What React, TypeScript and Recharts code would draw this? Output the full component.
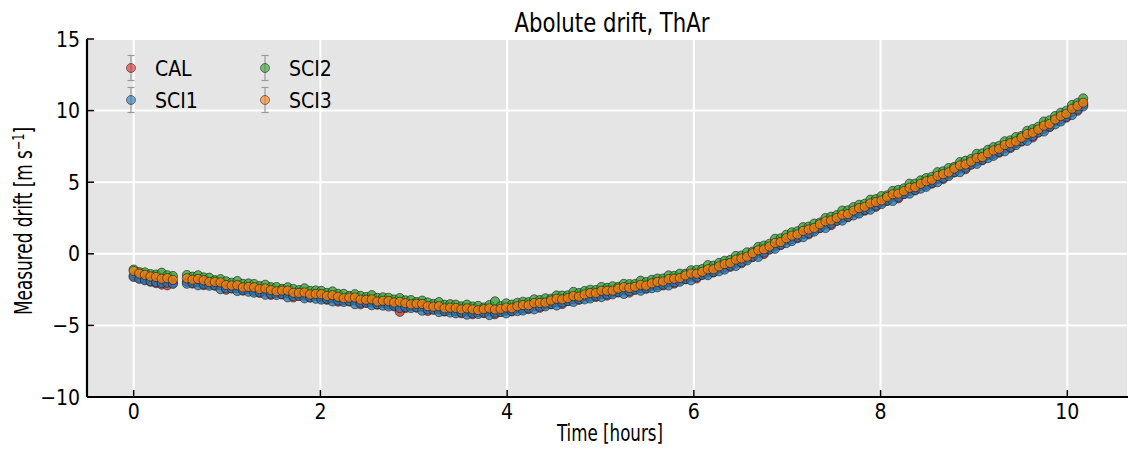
import React from "react";
import { ScatterChart, Scatter, XAxis, YAxis, CartesianGrid } from "recharts";

const FONT = '"Liberation Sans Narrow", "DejaVu Sans Condensed", "Roboto Condensed", "Arial Narrow", sans-serif';

// time stamps of the exposures [hours]
const hours = [
  0, 0.06, 0.12, 0.18, 0.24, 0.3, 0.36, 0.42,
  0.57, 0.63, 0.69, 0.75, 0.81, 0.87, 0.93, 0.99, 1.05, 1.11, 1.17, 1.23,
  1.29, 1.35, 1.41, 1.47, 1.53, 1.59, 1.65, 1.71, 1.77, 1.83, 1.89, 1.95,
  2.01, 2.07, 2.13, 2.19, 2.25, 2.31, 2.37, 2.43, 2.49, 2.55, 2.61, 2.67,
  2.73, 2.79, 2.85, 2.91, 2.97, 3.03, 3.09, 3.15, 3.21, 3.27, 3.33, 3.39,
  3.45, 3.51, 3.57, 3.63, 3.69, 3.75, 3.81, 3.87, 3.93, 3.99, 4.05, 4.11,
  4.17, 4.23, 4.29, 4.35, 4.41, 4.47, 4.53, 4.59, 4.65, 4.71, 4.77, 4.83,
  4.89, 4.95, 5.01, 5.07, 5.13, 5.19, 5.25, 5.31, 5.37, 5.43, 5.49, 5.55,
  5.61, 5.67, 5.73, 5.79, 5.85, 5.91, 5.97, 6.03, 6.09, 6.15, 6.21, 6.27,
  6.33, 6.39, 6.45, 6.51, 6.57, 6.63, 6.69, 6.75, 6.81, 6.87, 6.93, 6.99,
  7.05, 7.11, 7.17, 7.23, 7.29, 7.35, 7.41, 7.47, 7.53, 7.59, 7.65, 7.71,
  7.77, 7.83, 7.89, 7.95, 8.01, 8.07, 8.13, 8.19, 8.25, 8.31, 8.37, 8.43,
  8.49, 8.55, 8.61, 8.67, 8.73, 8.79, 8.85, 8.91, 8.97, 9.03, 9.09, 9.15,
  9.21, 9.27, 9.33, 9.39, 9.45, 9.51, 9.57, 9.63, 9.69, 9.75, 9.81, 9.87,
  9.93, 9.99, 10.05, 10.11, 10.17,
];

// measured drift per fibre [m/s]
const cal = [
  -1.55, -1.7, -1.8, -1.95, -2.05, -2.15, -2.2, -2.05,
  -1.95, -2.08, -1.98, -2.19, -2.1, -2.23, -2.21, -2.51, -2.41, -2.41, -2.57, -2.45,
  -2.58, -2.73, -2.64, -2.87, -2.75, -2.84, -2.78, -3.05, -2.93, -2.92, -3.06, -2.94,
  -3.06, -3.21, -3.11, -3.34, -3.23, -3.33, -3.26, -3.53, -3.41, -3.4, -3.55, -3.42,
  -3.54, -3.67, -4.05, -3.79, -3.66, -3.76, -3.71, -3.99, -3.89, -3.88, -4.03, -3.9,
  -4.02, -4.15, -4.03, -4.22, -4.07, -4.14, -4.02, -4.22, -4.05, -3.97, -4.02, -3.8,
  -3.82, -3.86, -3.66, -3.77, -3.54, -3.53, -3.35, -3.51, -3.29, -3.17, -3.21, -2.98,
  -2.98, -3.01, -2.8, -2.92, -2.7, -2.7, -2.54, -2.71, -2.5, -2.39, -2.44, -2.2,
  -2.2, -2.21, -1.99, -2.08, -1.82, -1.78, -1.59, -1.72, -1.46, -1.3, -1.3, -1.02,
  -0.96, -0.91, -0.63, -0.66, -0.33, -0.23, 0.04, -0.02, 0.31, 0.54, 0.61, 0.95,
  1.03, 1.09, 1.38, 1.36, 1.68, 1.79, 2.06, 2.0, 2.31, 2.51, 2.56, 2.88,
  2.95, 3.01, 3.3, 3.28, 3.6, 3.69, 3.95, 3.87, 4.18, 4.39, 4.43, 4.75,
  4.82, 4.9, 5.22, 5.22, 5.56, 5.68, 5.96, 5.91, 6.24, 6.47, 6.54, 6.88,
  6.98, 7.06, 7.38, 7.38, 7.72, 7.84, 8.15, 8.12, 8.48, 8.73, 8.85, 9.24,
  9.38, 9.51, 9.91, 9.99, 10.42,
];

const sci1 = [
  -1.62, -1.75, -1.85, -1.92, -1.98, -2.05, -2.02, -2.1,
  -2.09, -2.02, -2.2, -2.11, -2.23, -2.2, -2.47, -2.41, -2.42, -2.6, -2.54, -2.65,
  -2.72, -2.67, -2.86, -2.79, -2.88, -2.81, -3.04, -2.95, -2.94, -3.11, -3.03, -3.14,
  -3.2, -3.15, -3.33, -3.26, -3.36, -3.3, -3.52, -3.43, -3.42, -3.59, -3.52, -3.62,
  -3.68, -3.61, -3.79, -3.71, -3.79, -3.73, -3.97, -3.89, -3.9, -4.07, -4.0, -4.1,
  -4.16, -4.09, -4.25, -4.14, -4.2, -4.11, -4.28, -4.12, -4.06, -4.16, -3.99, -4.0,
  -3.96, -3.8, -3.88, -3.69, -3.67, -3.5, -3.61, -3.41, -3.3, -3.36, -3.18, -3.18,
  -3.12, -2.95, -3.02, -2.84, -2.83, -2.67, -2.8, -2.61, -2.51, -2.58, -2.41, -2.4,
  -2.34, -2.15, -2.21, -2.0, -1.95, -1.75, -1.85, -1.62, -1.47, -1.49, -1.27, -1.22,
  -1.1, -0.85, -0.85, -0.58, -0.46, -0.2, -0.22, 0.08, 0.3, 0.35, 0.64, 0.75,
  0.89, 1.15, 1.16, 1.44, 1.55, 1.82, 1.8, 2.1, 2.3, 2.32, 2.59, 2.68,
  2.81, 3.07, 3.08, 3.36, 3.47, 3.72, 3.69, 3.97, 4.17, 4.2, 4.46, 4.55,
  4.68, 4.96, 5.0, 5.3, 5.43, 5.71, 5.7, 6.01, 6.23, 6.28, 6.57, 6.68,
  6.84, 7.12, 7.16, 7.46, 7.59, 7.87, 7.89, 8.22, 8.47, 8.54, 8.88, 9.04,
  9.24, 9.57, 9.69, 10.07, 10.29,
];

const sci2 = [
  -1.1, -1.28, -1.3, -1.42, -1.45, -1.32, -1.5, -1.55,
  -1.48, -1.6, -1.5, -1.65, -1.67, -1.84, -1.77, -1.92, -2.02, -1.9, -2.1, -2.07,
  -2.11, -2.25, -2.16, -2.33, -2.32, -2.45, -2.34, -2.46, -2.54, -2.41, -2.59, -2.56,
  -2.59, -2.73, -2.63, -2.8, -2.8, -2.94, -2.82, -2.94, -3.02, -2.89, -3.08, -3.04,
  -3.07, -3.19, -3.09, -3.25, -3.23, -3.37, -3.27, -3.4, -3.5, -3.37, -3.56, -3.52,
  -3.55, -3.67, -3.55, -3.68, -3.64, -3.75, -3.58, -3.32, -3.66, -3.46, -3.55, -3.42,
  -3.35, -3.38, -3.18, -3.23, -3.11, -3.14, -2.91, -2.92, -2.9, -2.66, -2.74, -2.6,
  -2.51, -2.53, -2.32, -2.38, -2.27, -2.31, -2.1, -2.12, -2.11, -1.88, -1.97, -1.82,
  -1.73, -1.73, -1.51, -1.54, -1.39, -1.39, -1.15, -1.13, -1.07, -0.79, -0.83, -0.64,
  -0.49, -0.43, -0.15, -0.12, 0.1, 0.16, 0.48, 0.57, 0.7, 1.05, 1.08, 1.33,
  1.5, 1.57, 1.86, 1.9, 2.11, 2.18, 2.5, 2.59, 2.7, 3.02, 3.03, 3.26,
  3.42, 3.49, 3.78, 3.82, 4.03, 4.08, 4.39, 4.46, 4.57, 4.9, 4.9, 5.13,
  5.29, 5.38, 5.7, 5.76, 5.99, 6.07, 6.4, 6.5, 6.63, 6.98, 7.01, 7.26,
  7.45, 7.54, 7.86, 7.92, 8.15, 8.23, 8.59, 8.71, 8.87, 9.24, 9.32, 9.62,
  9.85, 9.99, 10.39, 10.53, 10.85,
];

const sci3 = [
  -1.2, -1.38, -1.47, -1.58, -1.62, -1.74, -1.7, -1.82,
  -1.71, -1.81, -1.76, -1.85, -1.97, -1.96, -2.0, -2.18, -2.21, -2.19, -2.35, -2.31,
  -2.34, -2.46, -2.42, -2.53, -2.62, -2.57, -2.57, -2.72, -2.73, -2.7, -2.84, -2.8,
  -2.82, -2.94, -2.89, -3.0, -3.1, -3.06, -3.05, -3.2, -3.21, -3.18, -3.33, -3.28,
  -3.3, -3.4, -3.35, -3.45, -3.53, -3.49, -3.5, -3.66, -3.69, -3.66, -3.81, -3.76,
  -3.78, -3.88, -3.81, -3.88, -3.94, -3.87, -3.81, -3.89, -3.85, -3.75, -3.8, -3.66,
  -3.58, -3.59, -3.44, -3.43, -3.41, -3.26, -3.14, -3.18, -3.09, -2.95, -2.99, -2.84,
  -2.74, -2.74, -2.58, -2.58, -2.57, -2.43, -2.33, -2.38, -2.3, -2.17, -2.22, -2.06,
  -1.96, -1.94, -1.77, -1.74, -1.69, -1.51, -1.38, -1.39, -1.26, -1.08, -1.08, -0.88,
  -0.72, -0.64, -0.41, -0.32, -0.2, 0.04, 0.25, 0.31, 0.51, 0.76, 0.83, 1.09,
  1.27, 1.36, 1.6, 1.7, 1.81, 2.06, 2.27, 2.33, 2.51, 2.73, 2.78, 3.02,
  3.19, 3.28, 3.52, 3.62, 3.73, 3.96, 4.16, 4.2, 4.38, 4.61, 4.65, 4.89,
  5.06, 5.17, 5.44, 5.56, 5.69, 5.95, 6.17, 6.24, 6.44, 6.69, 6.76, 7.02,
  7.22, 7.33, 7.6, 7.72, 7.85, 8.11, 8.36, 8.45, 8.68, 8.95, 9.07, 9.38,
  9.62, 9.78, 10.13, 10.33, 10.55,
];

const xTicks = [0, 2, 4, 6, 8, 10];
const yTicks = [-10, -5, 0, 5, 10, 15];

const series = [
  { name: "CAL", values: cal, color: "#d62728" },
  { name: "SCI1", values: sci1, color: "#1f77b4" },
  { name: "SCI2", values: sci2, color: "#2ca02c" },
  { name: "SCI3", values: sci3, color: "#ff7f0e" },
];

const fmt = (v: number) => String(v).replace("-", "\u2212");

const BottomTick = (props: any) => {
  const { x, y, payload } = props;
  return (
    <g>
      <line x1={x} x2={x} y1={y} y2={y - 7} stroke="#000" strokeWidth={1.5} />
      <text x={x} y={y + 22} textAnchor="middle" fontSize={21} fontFamily={FONT} fill="#000">
        {fmt(payload.value)}
      </text>
    </g>
  );
};

const TopTick = (props: any) => {
  const { x, y } = props;
  return <line x1={x} x2={x} y1={y} y2={y + 7} stroke="#000" strokeWidth={1.5} />;
};

const LeftTick = (props: any) => {
  const { x, y, payload } = props;
  return (
    <g>
      <line x1={x} x2={x + 7} y1={y} y2={y} stroke="#000" strokeWidth={1.5} />
      <text x={x - 7} y={y} dy="0.36em" textAnchor="end" fontSize={21} fontFamily={FONT} fill="#000">
        {fmt(payload.value)}
      </text>
    </g>
  );
};

const RightTick = (props: any) => {
  const { x, y } = props;
  return <line x1={x} x2={x - 7} y1={y} y2={y} stroke="#000" strokeWidth={1.5} />;
};

const dot = (color: string) => (p: any) => (
  <circle cx={p.cx} cy={p.cy} r={4.6} fill={color} fillOpacity={0.75} stroke="#1a1a1a" strokeOpacity={0.6} strokeWidth={1} />
);

function LegendItem({ x, y, label, color }: { x: number; y: number; label: string; color: string }) {
  return (
    <g>
      <line x1={x} x2={x} y1={y - 12.5} y2={y + 12.5} stroke="#999" strokeWidth={1.2} />
      <line x1={x - 3.5} x2={x + 3.5} y1={y - 12.5} y2={y - 12.5} stroke="#999" strokeWidth={1.2} />
      <line x1={x - 3.5} x2={x + 3.5} y1={y + 12.5} y2={y + 12.5} stroke="#999" strokeWidth={1.2} />
      <circle cx={x} cy={y} r={4.5} fill={color} fillOpacity={0.6} stroke="#222" strokeOpacity={0.55} />
      <text x={x + 24} y={y} dy="0.36em" fontSize={21} fontFamily={FONT} fill="#000">
        {label}
      </text>
    </g>
  );
}

export default function App() {
  return (
    <div style={{ position: "absolute", left: 0, top: 0, width: 1130, height: 449, background: "#fff" }}>
      <ScatterChart width={1130} height={449} margin={{ top: 39, right: 2, bottom: 0, left: 0 }}>
        <CartesianGrid fill="#e5e5e5" stroke="#ffffff" strokeWidth={2} />
        <XAxis
          type="number"
          dataKey="t"
          domain={[-0.5, 10.65]}
          ticks={xTicks}
          height={52}
          axisLine={{ stroke: "#000", strokeWidth: 2.2 }}
          tickLine={false}
          tickSize={0}
          tickMargin={0}
          tick={<BottomTick />}
          allowDataOverflow
        />
        <XAxis
          xAxisId="top"
          orientation="top"
          type="number"
          dataKey="t"
          domain={[-0.5, 10.65]}
          ticks={xTicks}
          height={0}
          axisLine={{ stroke: "#000", strokeWidth: 2.2 }}
          tickLine={false}
          tickSize={0}
          tickMargin={0}
          tick={<TopTick />}
          allowDataOverflow
        />
        <YAxis
          type="number"
          dataKey="v"
          domain={[-10, 15]}
          ticks={yTicks}
          width={87}
          axisLine={{ stroke: "#000", strokeWidth: 2.2 }}
          tickLine={false}
          tickSize={0}
          tickMargin={0}
          tick={<LeftTick />}
          allowDataOverflow
        />
        <YAxis
          yAxisId="right"
          orientation="right"
          type="number"
          dataKey="v"
          domain={[-10, 15]}
          ticks={yTicks}
          width={0}
          axisLine={{ stroke: "#000", strokeWidth: 2.2 }}
          tickLine={false}
          tickSize={0}
          tickMargin={0}
          tick={<RightTick />}
          allowDataOverflow
        />
        {series.map((s) => (
          <Scatter
            key={s.name}
            name={s.name}
            data={hours.map((t, i) => ({ t, v: s.values[i] }))}
            shape={dot(s.color)}
            isAnimationActive={false}
          />
        ))}
      </ScatterChart>
      <svg width={1130} height={449} style={{ position: "absolute", left: 0, top: 0, pointerEvents: "none" }}>
        <text x={612} y={32} textAnchor="middle" fontSize={27} fontFamily={FONT} fill="#000" textLength={195} lengthAdjust="spacingAndGlyphs">
          Abolute drift, ThAr
        </text>
        <text x={610} y={441} textAnchor="middle" fontSize={23} fontFamily={FONT} fill="#000" textLength={106} lengthAdjust="spacingAndGlyphs">
          Time [hours]
        </text>
        <text transform="translate(32,221) rotate(-90)" textAnchor="middle" fontSize={24} fontFamily={FONT} fill="#000" textLength={188} lengthAdjust="spacingAndGlyphs">
          Measured drift [m s
          <tspan dy={-8} fontSize={16}>{"\u22121"}</tspan>
          <tspan dy={8}>]</tspan>
        </text>
        <LegendItem x={131} y={68} label="CAL" color="#d62728" />
        <LegendItem x={131} y={100} label="SCI1" color="#1f77b4" />
        <LegendItem x={265} y={68} label="SCI2" color="#2ca02c" />
        <LegendItem x={265} y={100} label="SCI3" color="#ff7f0e" />
      </svg>
    </div>
  );
}
